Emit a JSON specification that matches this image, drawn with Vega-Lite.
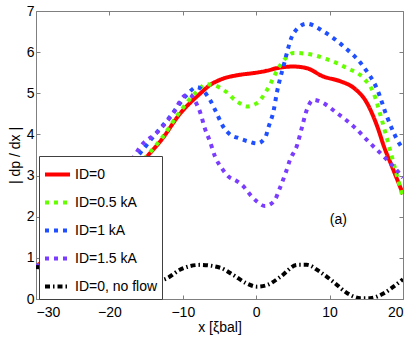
{
  "$schema": "https://vega.github.io/schema/vega-lite/v6.json",
  "width": 367,
  "height": 288,
  "autosize": "none",
  "padding": {"left": 36, "top": 11, "right": 12, "bottom": 42},
  "background": "white",
  "config": {
    "font": "Liberation Sans",
    "view": {"stroke": "#7f7f7f", "strokeWidth": 1},
    "axis": {
      "domainColor": "#7f7f7f",
      "tickColor": "#7f7f7f",
      "tickSize": -4,
      "labelFontSize": 14,
      "labelColor": "black",
      "titleFontSize": 14,
      "titleFontWeight": "normal",
      "titleColor": "black",
      "grid": false
    },
    "legend": {
      "orient": "none",
      "legendX": 3,
      "legendY": 145,
      "fillColor": "white",
      "strokeColor": "#404040",
      "padding": 4,
      "symbolType": "stroke",
      "symbolSize": 625,
      "symbolStrokeWidth": 4,
      "labelFontSize": 14,
      "labelColor": "black",
      "labelOffset": 3,
      "rowPadding": 5
    }
  },
  "datasets": {
    "curves": [
      {"series": "ID=0", "x": -30, "y": 0.78},
      {"series": "ID=0", "x": -27, "y": 1.25},
      {"series": "ID=0", "x": -24, "y": 1.78},
      {"series": "ID=0", "x": -21, "y": 2.35},
      {"series": "ID=0", "x": -18, "y": 2.9},
      {"series": "ID=0", "x": -14.7, "y": 3.5},
      {"series": "ID=0", "x": -12.9, "y": 3.87},
      {"series": "ID=0", "x": -10.4, "y": 4.5},
      {"series": "ID=0", "x": -7.6, "y": 5.0},
      {"series": "ID=0", "x": -6.3, "y": 5.2},
      {"series": "ID=0", "x": -4.9, "y": 5.33},
      {"series": "ID=0", "x": -2.2, "y": 5.45},
      {"series": "ID=0", "x": -0.4, "y": 5.49},
      {"series": "ID=0", "x": 1.5, "y": 5.55},
      {"series": "ID=0", "x": 2.8, "y": 5.61},
      {"series": "ID=0", "x": 5.1, "y": 5.65},
      {"series": "ID=0", "x": 6.9, "y": 5.61},
      {"series": "ID=0", "x": 9.1, "y": 5.41},
      {"series": "ID=0", "x": 11.5, "y": 5.29},
      {"series": "ID=0", "x": 13.3, "y": 5.13},
      {"series": "ID=0", "x": 15.1, "y": 4.76},
      {"series": "ID=0", "x": 16.5, "y": 4.19},
      {"series": "ID=0", "x": 17.4, "y": 3.71},
      {"series": "ID=0", "x": 18.5, "y": 3.22},
      {"series": "ID=0", "x": 20, "y": 2.55},
      {"series": "ID=0.5 kA", "x": -30, "y": 0.78},
      {"series": "ID=0.5 kA", "x": -27, "y": 1.25},
      {"series": "ID=0.5 kA", "x": -24, "y": 1.78},
      {"series": "ID=0.5 kA", "x": -21, "y": 2.35},
      {"series": "ID=0.5 kA", "x": -18, "y": 2.9},
      {"series": "ID=0.5 kA", "x": -14.7, "y": 3.52},
      {"series": "ID=0.5 kA", "x": -12.9, "y": 3.9},
      {"series": "ID=0.5 kA", "x": -10.4, "y": 4.55},
      {"series": "ID=0.5 kA", "x": -8.1, "y": 5.04},
      {"series": "ID=0.5 kA", "x": -6.8, "y": 5.22},
      {"series": "ID=0.5 kA", "x": -5.8, "y": 5.2},
      {"series": "ID=0.5 kA", "x": -4.5, "y": 5.09},
      {"series": "ID=0.5 kA", "x": -2.6, "y": 4.8},
      {"series": "ID=0.5 kA", "x": -1.3, "y": 4.68},
      {"series": "ID=0.5 kA", "x": 0.1, "y": 4.76},
      {"series": "ID=0.5 kA", "x": 1.5, "y": 5.09},
      {"series": "ID=0.5 kA", "x": 3.3, "y": 5.69},
      {"series": "ID=0.5 kA", "x": 5.1, "y": 5.98},
      {"series": "ID=0.5 kA", "x": 6.9, "y": 5.96},
      {"series": "ID=0.5 kA", "x": 9.6, "y": 5.83},
      {"series": "ID=0.5 kA", "x": 12.4, "y": 5.61},
      {"series": "ID=0.5 kA", "x": 14.6, "y": 5.37},
      {"series": "ID=0.5 kA", "x": 16, "y": 5.0},
      {"series": "ID=0.5 kA", "x": 17.1, "y": 4.36},
      {"series": "ID=0.5 kA", "x": 18.1, "y": 3.71},
      {"series": "ID=0.5 kA", "x": 20, "y": 2.45},
      {"series": "ID=1 kA", "x": -30, "y": 0.78},
      {"series": "ID=1 kA", "x": -27, "y": 1.3},
      {"series": "ID=1 kA", "x": -24, "y": 1.9},
      {"series": "ID=1 kA", "x": -21, "y": 2.5},
      {"series": "ID=1 kA", "x": -18, "y": 3.1},
      {"series": "ID=1 kA", "x": -15.8, "y": 3.55},
      {"series": "ID=1 kA", "x": -14, "y": 3.95},
      {"series": "ID=1 kA", "x": -11.7, "y": 4.44},
      {"series": "ID=1 kA", "x": -9.5, "y": 4.95},
      {"series": "ID=1 kA", "x": -8.1, "y": 5.15},
      {"series": "ID=1 kA", "x": -6.3, "y": 4.84},
      {"series": "ID=1 kA", "x": -5.4, "y": 4.52},
      {"series": "ID=1 kA", "x": -4.5, "y": 4.19},
      {"series": "ID=1 kA", "x": -3.5, "y": 3.99},
      {"series": "ID=1 kA", "x": -2.4, "y": 3.91},
      {"series": "ID=1 kA", "x": -1.1, "y": 3.83},
      {"series": "ID=1 kA", "x": 0.1, "y": 3.78},
      {"series": "ID=1 kA", "x": 1.2, "y": 3.91},
      {"series": "ID=1 kA", "x": 1.7, "y": 4.19},
      {"series": "ID=1 kA", "x": 2.4, "y": 4.6},
      {"series": "ID=1 kA", "x": 2.8, "y": 5.0},
      {"series": "ID=1 kA", "x": 3.7, "y": 5.65},
      {"series": "ID=1 kA", "x": 5.1, "y": 6.46},
      {"series": "ID=1 kA", "x": 6.9, "y": 6.69},
      {"series": "ID=1 kA", "x": 9.2, "y": 6.5},
      {"series": "ID=1 kA", "x": 11.9, "y": 6.14},
      {"series": "ID=1 kA", "x": 14.6, "y": 5.65},
      {"series": "ID=1 kA", "x": 16.5, "y": 5.09},
      {"series": "ID=1 kA", "x": 17.8, "y": 4.44},
      {"series": "ID=1 kA", "x": 19.6, "y": 3.75},
      {"series": "ID=1 kA", "x": 20, "y": 3.65},
      {"series": "ID=1.5 kA", "x": -30, "y": 0.78},
      {"series": "ID=1.5 kA", "x": -27, "y": 1.35},
      {"series": "ID=1.5 kA", "x": -24, "y": 2.0},
      {"series": "ID=1.5 kA", "x": -21, "y": 2.6},
      {"series": "ID=1.5 kA", "x": -18.5, "y": 3.1},
      {"series": "ID=1.5 kA", "x": -16.7, "y": 3.45},
      {"series": "ID=1.5 kA", "x": -15.8, "y": 3.7},
      {"series": "ID=1.5 kA", "x": -13.5, "y": 4.05},
      {"series": "ID=1.5 kA", "x": -11.3, "y": 4.52},
      {"series": "ID=1.5 kA", "x": -9.9, "y": 4.92},
      {"series": "ID=1.5 kA", "x": -9.1, "y": 4.98},
      {"series": "ID=1.5 kA", "x": -8.3, "y": 4.8},
      {"series": "ID=1.5 kA", "x": -7.6, "y": 4.52},
      {"series": "ID=1.5 kA", "x": -7, "y": 4.15},
      {"series": "ID=1.5 kA", "x": -6.3, "y": 3.83},
      {"series": "ID=1.5 kA", "x": -5.6, "y": 3.46},
      {"series": "ID=1.5 kA", "x": -4.7, "y": 3.18},
      {"series": "ID=1.5 kA", "x": -3.8, "y": 2.98},
      {"series": "ID=1.5 kA", "x": -2.6, "y": 2.86},
      {"series": "ID=1.5 kA", "x": -1.7, "y": 2.73},
      {"series": "ID=1.5 kA", "x": -0.8, "y": 2.53},
      {"series": "ID=1.5 kA", "x": 0.1, "y": 2.37},
      {"series": "ID=1.5 kA", "x": 1.2, "y": 2.26},
      {"series": "ID=1.5 kA", "x": 2.4, "y": 2.37},
      {"series": "ID=1.5 kA", "x": 3.3, "y": 2.73},
      {"series": "ID=1.5 kA", "x": 4.0, "y": 3.06},
      {"series": "ID=1.5 kA", "x": 4.6, "y": 3.38},
      {"series": "ID=1.5 kA", "x": 5.6, "y": 3.75},
      {"series": "ID=1.5 kA", "x": 6.2, "y": 4.15},
      {"series": "ID=1.5 kA", "x": 6.9, "y": 4.6},
      {"series": "ID=1.5 kA", "x": 7.8, "y": 4.84},
      {"series": "ID=1.5 kA", "x": 8.7, "y": 4.8},
      {"series": "ID=1.5 kA", "x": 11, "y": 4.52},
      {"series": "ID=1.5 kA", "x": 13.3, "y": 4.19},
      {"series": "ID=1.5 kA", "x": 15.5, "y": 3.79},
      {"series": "ID=1.5 kA", "x": 17.4, "y": 3.46},
      {"series": "ID=1.5 kA", "x": 18.7, "y": 3.22},
      {"series": "ID=1.5 kA", "x": 20, "y": 2.95},
      {"series": "ID=0, no flow", "x": -30, "y": 0.78},
      {"series": "ID=0, no flow", "x": -28, "y": 0.72},
      {"series": "ID=0, no flow", "x": -26, "y": 0.58},
      {"series": "ID=0, no flow", "x": -24, "y": 0.42},
      {"series": "ID=0, no flow", "x": -22, "y": 0.3},
      {"series": "ID=0, no flow", "x": -20, "y": 0.25},
      {"series": "ID=0, no flow", "x": -18, "y": 0.28},
      {"series": "ID=0, no flow", "x": -16, "y": 0.35},
      {"series": "ID=0, no flow", "x": -14, "y": 0.42},
      {"series": "ID=0, no flow", "x": -12.2, "y": 0.5},
      {"series": "ID=0, no flow", "x": -10.4, "y": 0.71},
      {"series": "ID=0, no flow", "x": -7.6, "y": 0.83},
      {"series": "ID=0, no flow", "x": -4.9, "y": 0.76},
      {"series": "ID=0, no flow", "x": -3.1, "y": 0.58},
      {"series": "ID=0, no flow", "x": -1.3, "y": 0.38},
      {"series": "ID=0, no flow", "x": 0.1, "y": 0.3},
      {"series": "ID=0, no flow", "x": 1.5, "y": 0.34},
      {"series": "ID=0, no flow", "x": 3.3, "y": 0.54},
      {"series": "ID=0, no flow", "x": 5.6, "y": 0.83},
      {"series": "ID=0, no flow", "x": 6.9, "y": 0.83},
      {"series": "ID=0, no flow", "x": 8.7, "y": 0.66},
      {"series": "ID=0, no flow", "x": 10.5, "y": 0.42},
      {"series": "ID=0, no flow", "x": 12.4, "y": 0.14},
      {"series": "ID=0, no flow", "x": 14.2, "y": 0.02},
      {"series": "ID=0, no flow", "x": 15.5, "y": 0.02},
      {"series": "ID=0, no flow", "x": 17.4, "y": 0.14},
      {"series": "ID=0, no flow", "x": 18.7, "y": 0.3},
      {"series": "ID=0, no flow", "x": 20, "y": 0.48}
    ],
    "notes": [
      {"x": 11.2, "y": 1.92, "label": "(a)"}
    ]
  },
  "resolve": {"axis": {"x": "independent", "y": "independent"}},
  "layer": [
    {
      "data": {"name": "curves"},
      "mark": {"type": "line", "strokeWidth": 4, "interpolate": "monotone", "clip": true},
      "encoding": {
        "x": {
          "field": "x", "type": "quantitative",
          "scale": {"domain": [-30, 20], "nice": false, "zero": false},
          "axis": {"values": [-30, -20, -10, 0, 10, 20], "title": "x [ξbal]", "labelPadding": 10, "titlePadding": 1}
        },
        "y": {
          "field": "y", "type": "quantitative",
          "scale": {"domain": [0, 7], "nice": false},
          "axis": {"values": [0, 1, 2, 3, 4, 5, 6, 7], "title": "| dp / dx |", "labelPadding": 6, "titlePadding": 4}
        },
        "color": {
          "field": "series", "type": "nominal",
          "sort": ["ID=0", "ID=0.5 kA", "ID=1 kA", "ID=1.5 kA", "ID=0, no flow"],
          "legend": {"title": null},
          "scale": {
            "domain": ["ID=0", "ID=0.5 kA", "ID=1 kA", "ID=1.5 kA", "ID=0, no flow"],
            "range": ["#ff0000", "#66ff00", "#1f4fff", "#7a3cff", "#000000"]
          }
        },
        "strokeDash": {
          "field": "series", "type": "nominal",
          "sort": ["ID=0", "ID=0.5 kA", "ID=1 kA", "ID=1.5 kA", "ID=0, no flow"],
          "legend": {"title": null},
          "scale": {
            "domain": ["ID=0", "ID=0.5 kA", "ID=1 kA", "ID=1.5 kA", "ID=0, no flow"],
            "range": [[1, 0], [4, 5], [4, 5], [4, 5], [5, 3, 1.5, 3]]
          }
        }
      }
    },
    {
      "data": {"name": "curves"},
      "mark": {"type": "point", "opacity": 0},
      "encoding": {
        "x": {"field": "x", "type": "quantitative", "scale": {"domain": [-30, 20], "nice": false, "zero": false}, "axis": {"orient": "top", "values": [-30, -20, -10, 0, 10, 20], "labels": false, "title": null, "domain": false}},
        "y": {"field": "y", "type": "quantitative", "scale": {"domain": [0, 7], "nice": false}, "axis": {"orient": "right", "values": [0, 1, 2, 3, 4, 5, 6, 7], "labels": false, "title": null, "domain": false}}
      }
    },
    {
      "data": {"name": "notes"},
      "mark": {"type": "text", "fontSize": 14, "color": "black", "baseline": "middle"},
      "encoding": {
        "x": {"field": "x", "type": "quantitative", "scale": {"domain": [-30, 20], "nice": false, "zero": false}, "axis": null},
        "y": {"field": "y", "type": "quantitative", "scale": {"domain": [0, 7], "nice": false}, "axis": null},
        "text": {"field": "label"}
      }
    }
  ]
}
